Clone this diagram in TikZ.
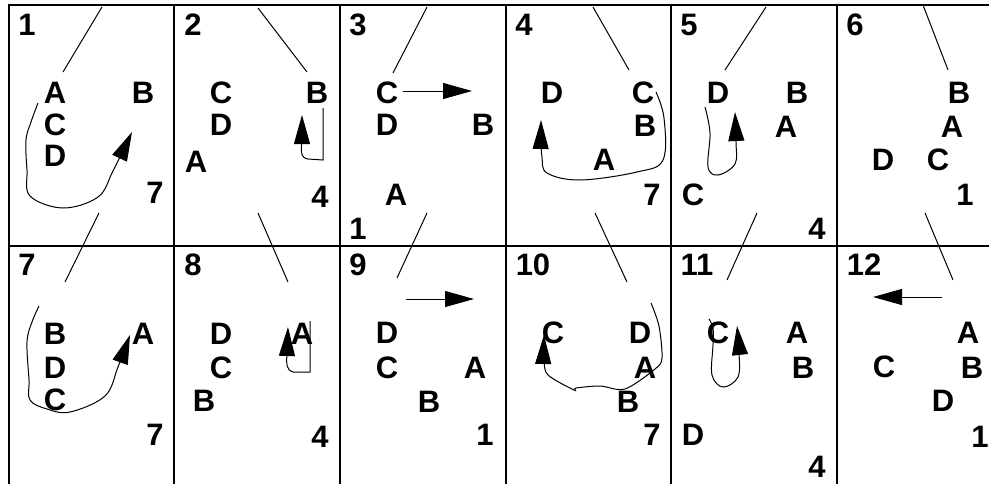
\documentclass[tikz,border=0pt]{standalone}
\usepackage{fontspec}
\setmainfont{Liberation Sans}
\usetikzlibrary{arrows.meta}
\tikzset{
  lbl/.style={font=\fontsize{31}{36}\selectfont\bfseries, inner sep=0pt},
  grid/.style={line width=1.6pt},
  thin/.style={line width=1pt},
  arr/.style={line width=1pt, -{Triangle[length=29pt,width=16pt]}},
}
\begin{document}
\begin{tikzpicture}[x=1pt,y=-1pt]
\useasboundingbox (0,0) rectangle (989,483);
\clip (0,0) rectangle (989,483);
% grid
\draw[grid] (9,5) rectangle (1002,487);
\foreach \x in {174,340,506,671,837} \draw[grid] (\x,5) -- (\x,487);
\draw[grid] (9,246) -- (1002,246);
% panel numbers
\node[lbl] (n1) at (27,25) {1};
\node[lbl] (n2) at (193,25) {2};
\node[lbl] (n3) at (358,25) {3};
\node[lbl] (n4) at (524,25) {4};
\node[lbl] (n5) at (689,25) {5};
\node[lbl] (n6) at (855,25) {6};
\node[lbl] (n7) at (27,265) {7};
\node[lbl] (n8) at (193,265) {8};
\node[lbl] (n9) at (358,265) {9};
\node[lbl] (n10) at (533,265) {10};
\node[lbl] (n11) at (697,265) {11};
\node[lbl] (n12) at (864,265) {12};
% slanted lines
\draw[thin] (102,7) -- (63,72);
\draw[thin] (258,8) -- (307,72);
\draw[thin] (427,7) -- (393,73);
\draw[thin] (593,7) -- (629,70);
\draw[thin] (766,7) -- (725,70);
\draw[thin] (923,5) -- (948,70);
\draw[thin] (99,213) -- (65,282);
\draw[thin] (258,213) -- (288,282);
\draw[thin] (427,213) -- (397,278);
\draw[thin] (595,213) -- (627,282);
\draw[thin] (757,213) -- (727,280);
\draw[thin] (925,213) -- (953,280);
% panel 1
\node[lbl] (p1a) at (55,93) {A};
\node[lbl] (p1c) at (55,125) {C};
\node[lbl] (p1d) at (55,156) {D};
\node[lbl] (p1b) at (143,93) {B};
\node[lbl] (p1n) at (155,193) {7};
\draw[arr] plot[smooth, tension=0.6] coordinates {(38,103) (31,122) (26,140) (27,170) (30,196) (63,208) (98,197) (113,171) (132,132)};
% panel 2
\node[lbl] (p2c) at (221,93) {C};
\node[lbl] (p2d) at (221,125) {D};
\node[lbl] (p2a) at (196,162) {A};
\node[lbl] (p2b) at (317,93) {B};
\node[lbl] (p2n) at (320,197) {4};
\draw[arr] (323,108) -- (323,160) -- (308,159) .. controls (300,158) and (301,150) .. (302,140) -- (302,115);
% panel 3
\node[lbl] (p3c) at (387,93) {C};
\node[lbl] (p3d) at (387,125) {D};
\node[lbl] (p3b) at (483,125) {B};
\node[lbl] (p3a) at (396,195) {A};
\node[lbl] (p3n) at (358,229) {1};
\draw[arr] (403,91) -- (472,91);
% panel 4
\node[lbl] (p4d) at (552,93) {D};
\node[lbl] (p4c) at (643,93) {C};
\node[lbl] (p4b) at (645,126) {B};
\node[lbl] (p4a) at (604,160) {A};
\node[lbl] (p4n) at (652,195) {7};
\draw[arr] plot[smooth, tension=0.6] coordinates {(656,92) (664,118) (663,160) (637,172) (580,180) (547,173) (542,157) (541,140) (541,120)};
% panel 5
\node[lbl] (p5d) at (718,93) {D};
\node[lbl] (p5b) at (797,93) {B};
\node[lbl] (p5a) at (786,127) {A};
\node[lbl] (p5c) at (693,195) {C};
\node[lbl] (p5n) at (817,229) {4};
\draw[arr] plot[smooth, tension=0.6] coordinates {(705,107) (710,133) (708,167) (718,175) (735,164) (736,142) (735,112)};
% panel 6
\node[lbl] (p6b) at (959,93) {B};
\node[lbl] (p6a) at (952,127) {A};
\node[lbl] (p6d) at (883,160) {D};
\node[lbl] (p6c) at (938,160) {C};
\node[lbl] (p6n) at (965,195) {1};
% panel 7
\node[lbl] (p7b) at (55,334) {B};
\node[lbl] (p7d) at (55,368) {D};
\node[lbl] (p7c) at (55,400) {C};
\node[lbl] (p7a) at (143,334) {A};
\node[lbl] (p7n) at (155,435) {7};
\draw[arr] plot[smooth, tension=0.6] coordinates {(39,306) (32,322) (27,342) (29,380) (30,400) (47,409) (70,412) (105,396) (118,367) (130,335)};
% panel 8
\node[lbl] (p8d) at (221,334) {D};
\node[lbl] (p8c) at (221,368) {C};
\node[lbl] (p8b) at (204,401) {B};
\node[lbl] (p8a) at (302,334) {A};
\node[lbl] (p8n) at (320,437) {4};
\draw[arr] (310,321) -- (310,372) -- (293,372) .. controls (287,371) and (286,364) .. (287,355) -- (288,327);
% panel 9
\node[lbl] (p9d) at (387,333) {D};
\node[lbl] (p9c) at (387,368) {C};
\node[lbl] (p9a) at (475,368) {A};
\node[lbl] (p9b) at (429,402) {B};
\node[lbl] (p9n) at (485,435) {1};
\draw[arr] (406,299) -- (474,299);
% panel 10
\node[lbl] (p10c) at (553,333) {C};
\node[lbl] (p10d) at (640,333) {D};
\node[lbl] (p10a) at (645,368) {A};
\node[lbl] (p10b) at (628,402) {B};
\node[lbl] (p10n) at (652,435) {7};
\draw[arr] plot[smooth, tension=0.5] coordinates {(651,303) (659,326) (662,358) (655,369) (625,389) (600,386) (576,388) (574,390) (548,375) (544,360) (544,335)};
% panel 11
\node[lbl] (p11c) at (718,333) {C};
\node[lbl] (p11a) at (797,333) {A};
\node[lbl] (p11b) at (803,368) {B};
\node[lbl] (p11d) at (693,435) {D};
\node[lbl] (p11n) at (817,467) {4};
\draw[arr] plot[smooth, tension=0.6] coordinates {(709,319) (713,328) (713,345) (712,375) (723,387) (738,377) (739,352) (737,326)};
% panel 12
\node[lbl] (p12a) at (968,333) {A};
\node[lbl] (p12b) at (972,368) {B};
\node[lbl] (p12c) at (884,367) {C};
\node[lbl] (p12d) at (943,401) {D};
\node[lbl] (p12n) at (980,437) {1};
\draw[arr] (942,297) -- (873,297);
\end{tikzpicture}
\end{document}
